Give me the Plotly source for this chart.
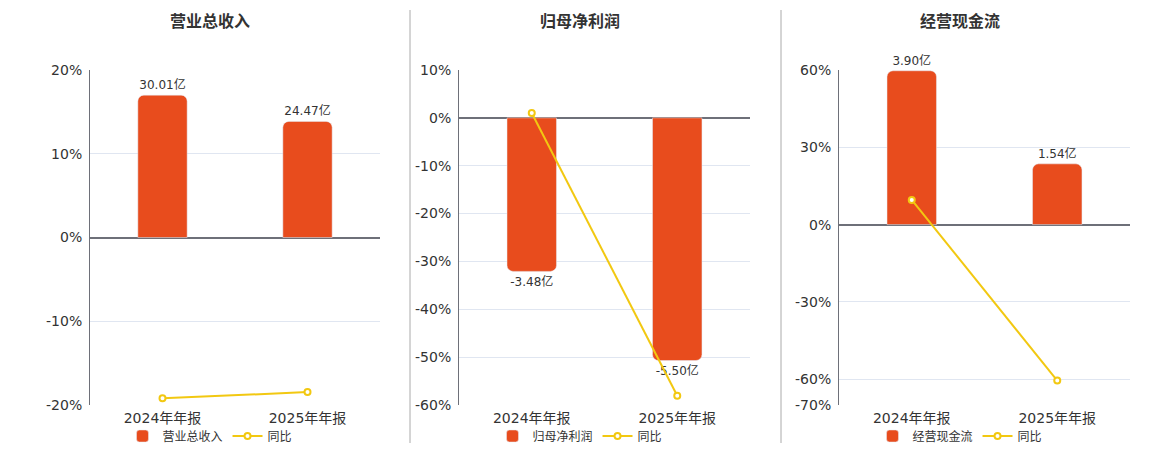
import plotly.graph_objects as go

# data
categories = ["2024年年报", "2025年年报"]

titles = ["营业总收入", "归母净利润", "经营现金流"]

revenue = [30.01, 24.47]          # 亿
revenue_yoy = [-19.2, -18.46]     # %

net_profit = [-3.48, -5.50]
net_profit_yoy = [1.0, -58.05]

cash_flow = [3.90, 1.54]
cash_flow_yoy = [9.6, -60.5]

pct_ticks_1 = [-20, -10, 0, 10, 20]
pct_ticks_2 = [-60, -50, -40, -30, -20, -10, 0, 10]
pct_ticks_3 = [-70, -60, -30, 0, 30, 60]

BAR_COLOR = "#e84c1d"
LINE_COLOR = "#f2c811"
AXIS_COLOR = "#6e7079"
GRID_COLOR = "#e0e6f1"
TEXT_COLOR = "#333333"
FONT = "DejaVu Sans, Noto Sans CJK SC, sans-serif"

W, H = 1160, 450
OFF = 8  # page body margin in the browser


def px_x(x):
    return (x - OFF) / W


def px_y(y):
    return (H + OFF - y) / H


panels = [
    dict(bars=revenue, yoy=revenue_yoy, ticks=pct_ticks_1, rng=[-20, 20],
         scale=30.01 / 17.0, px=(90, 380), center=210),
    dict(bars=net_profit, yoy=net_profit_yoy, ticks=pct_ticks_2, rng=[-60, 10],
         scale=5.50 / 50.7, px=(459, 750), center=580),
    dict(bars=cash_flow, yoy=cash_flow_yoy, ticks=pct_ticks_3, rng=[-70, 60],
         scale=3.90 / 59.7, px=(839, 1130), center=960),
]

y_dom = [px_y(405), px_y(70)]

fig = go.Figure()
layout = {}
annotations = []
shapes = []

for i, p in enumerate(panels, start=1):
    xa = "x" if i == 1 else f"x{i}"
    ya = "y" if i == 1 else f"y{i}"
    ya_pct = f"y{i + 3}"
    legend_id = "legend" if i == 1 else f"legend{i}"
    dom = [px_x(p["px"][0]), px_x(p["px"][1])]

    fig.add_trace(go.Bar(
        x=categories, y=p["bars"], name=titles[i - 1],
        xaxis=xa, yaxis=ya, legend=legend_id,
        marker=dict(color=BAR_COLOR, cornerradius=6),
        width=0.34,
        texttemplate="%{y:.2f}亿", textposition="outside",
        textfont=dict(size=12, color=TEXT_COLOR),
        cliponaxis=False,
    ))
    fig.add_trace(go.Scatter(
        x=categories, y=p["yoy"], name="同比", mode="lines+markers",
        xaxis=xa, yaxis=ya_pct, legend=legend_id,
        line=dict(color=LINE_COLOR, width=2),
        marker=dict(symbol="circle", size=6, color="white",
                    line=dict(color=LINE_COLOR, width=2)),
        cliponaxis=False,
    ))

    lo, hi = p["rng"]
    layout[f"xaxis{i}"] = dict(
        domain=dom, anchor=ya, type="category", categoryarray=categories,
        range=[-0.5, 1.5], showline=False, showgrid=False, ticks="",
        tickfont=dict(size=14, color=TEXT_COLOR), ticklabelstandoff=3,
        fixedrange=True,
    )
    layout[f"yaxis{i}"] = dict(
        domain=y_dom, anchor=xa, range=[lo * p["scale"], hi * p["scale"]],
        visible=False, showgrid=False, zeroline=False,
    )
    layout[f"yaxis{i + 3}"] = dict(
        domain=y_dom, anchor=xa, overlaying=ya, side="left",
        range=p["rng"], tickmode="array", tickvals=p["ticks"],
        ticktext=[f"{t}%" for t in p["ticks"]],
        tickfont=dict(size=14, color=TEXT_COLOR), ticklabelstandoff=4,
        showgrid=True, gridcolor=GRID_COLOR, gridwidth=1,
        zeroline=True, zerolinecolor=AXIS_COLOR, zerolinewidth=2,
        showline=True, linecolor=AXIS_COLOR, linewidth=1,
    )
    # axis line along zero with ticks between categories
    zero_pos = y_dom[0] + (0 - lo) / (hi - lo) * (y_dom[1] - y_dom[0])
    layout[f"xaxis{i + 3}"] = dict(
        domain=dom, overlaying=xa, anchor="free", position=zero_pos,
        type="category", categoryarray=categories, range=[-0.5, 1.5],
        showline=True, linecolor=AXIS_COLOR, linewidth=2,
        ticks="outside", tickson="boundaries", ticklen=5, tickwidth=1,
        tickcolor=AXIS_COLOR, showticklabels=False, showgrid=False,
    )
    layout[legend_id] = dict(
        orientation="h", x=px_x(p["center"]), xanchor="center",
        y=px_y(436), yanchor="middle",
        font=dict(size=12, color=TEXT_COLOR), itemwidth=30,
        bgcolor="rgba(0,0,0,0)",
    )
    annotations.append(dict(
        text=f"<b>{titles[i - 1]}</b>", x=px_x(p["center"]), y=px_y(22),
        xref="paper", yref="paper", xanchor="center", yanchor="middle",
        showarrow=False, font=dict(size=16, color=TEXT_COLOR),
    ))

for sx in (410, 781):
    shapes.append(dict(type="line", xref="paper", yref="paper",
                       x0=px_x(sx), x1=px_x(sx), y0=px_y(443), y1=px_y(10),
                       line=dict(color="#aaaaaa", width=1)))

fig.update_layout(
    width=W, height=H,
    margin=dict(l=0, r=0, t=0, b=0, autoexpand=False),
    paper_bgcolor="white", plot_bgcolor="white",
    font=dict(family=FONT, color=TEXT_COLOR),
    barmode="group", showlegend=True,
    annotations=annotations, shapes=shapes,
    **layout,
)

fig.write_html("out.html")
